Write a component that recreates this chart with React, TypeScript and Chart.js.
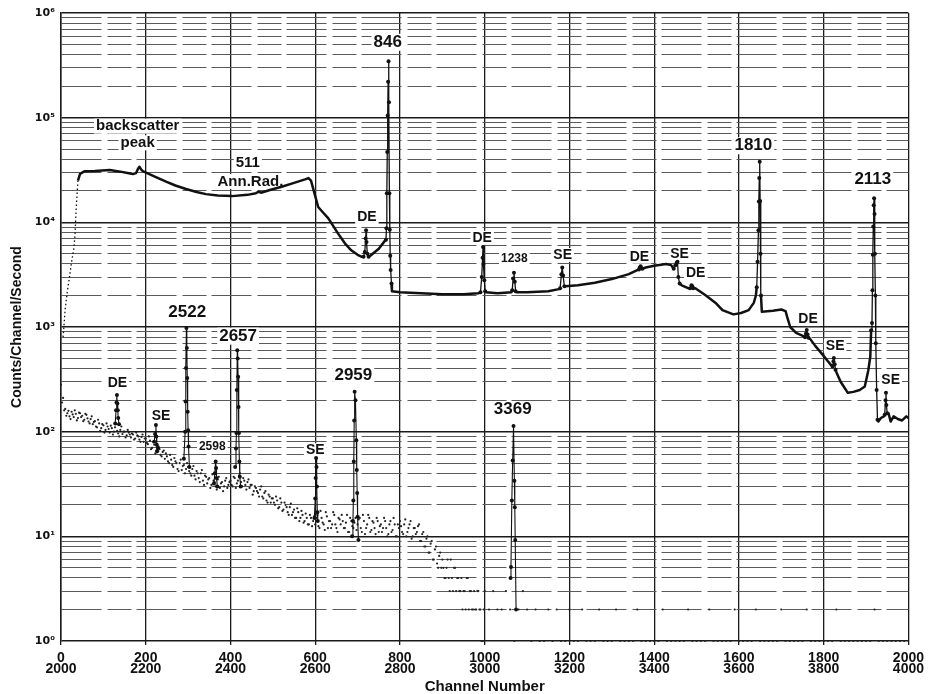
import React, { useEffect, useRef } from 'react';
import { Chart, registerables } from 'chart.js';

Chart.register(...registerables);

const FONT = '"Liberation Sans", Arial, Helvetica, sans-serif';

// ---- tick labels ----
const xTickTop = ['0', '200', '400', '600', '800', '1000', '1200', '1400', '1600', '1800', '2000'];
const xTickBottom = ['2000', '2200', '2400', '2600', '2800', '3000', '3200', '3400', '3600', '3800', '4000'];
const yTickLabels = ['10⁰', '10¹', '10²', '10³', '10⁴', '10⁵', '10⁶'];

// ---- upper spectrum (channels 0–2000), [channel, counts/s] ----
const upperRise: [number, number][] = [
  [5, 800], [10, 1500], [15, 2200], [20, 3000], [25, 4200], [30, 5500], [33, 7500], [36, 14000], [40, 25000],
];

const upperContinuum: [number, number][] = [
  [40, 25000], [45, 29000], [56, 30800], [80, 31000], [115, 31600], [140, 30500], [160, 29500], [170, 29000],
  [177, 29500], [181, 32000], [185, 34000], [189, 32000], [193, 30800], [220, 27500], [248, 24500], [270, 22500],
  [295, 20800], [320, 19500], [342, 18600], [370, 18000], [404, 17800], [440, 18300], [460, 19000], [467, 19600],
  [472, 19200], [495, 20500], [521, 21900], [550, 23800], [576, 25700], [584, 26500], [590, 25000], [596, 20400],
  [607, 14000], [620, 12200], [631, 10900], [654, 7800], [670, 6300], [685, 5400], [700, 4900], [709, 4700],
  [730, 4800], [750, 5600], [766, 6800], [781, 2200], [800, 2150], [850, 2100], [900, 2050], [950, 2060],
  [985, 2100], [1003, 2150], [1030, 2100], [1063, 2150], [1075, 2150], [1100, 2150], [1150, 2200], [1175, 2300],
  [1190, 2450], [1220, 2500], [1260, 2650], [1300, 2870], [1340, 3200], [1360, 3500], [1380, 3700], [1400, 3850],
  [1428, 4000], [1440, 3900], [1465, 2500], [1480, 2350], [1497, 2350], [1522, 2000], [1545, 1700], [1561, 1450],
  [1587, 1320], [1605, 1360], [1623, 1450], [1635, 1700], [1640, 2000], [1654, 1400], [1680, 1430], [1700, 1470],
  [1710, 1420], [1715, 1200], [1721, 1000], [1735, 880], [1752, 820], [1768, 770], [1780, 660], [1795, 560],
  [1810, 470], [1818, 430], [1830, 370], [1840, 300], [1857, 235], [1870, 240], [1885, 250], [1897, 270],
  [1905, 380], [1910, 520], [1929, 125], [1935, 135], [1942, 140], [1953, 150], [1958, 125], [1965, 140],
  [1975, 132], [1985, 128], [1995, 140], [2000, 135],
];

const peakDE720: [number, number][] = [[714, 4700], [717, 5200], [719, 7000], [720, 8400], [721, 6500], [723, 5000], [726, 4700]];
const peak846: [number, number][] = [
  [767, 6800], [768, 8800], [769, 19000], [770, 47000], [771, 105000], [772, 220000], [773, 345000],
  [774, 140000], [775, 19000], [776, 8500], [777, 4800], [778, 3500], [780, 2600],
];
const peakDE996: [number, number][] = [[990, 2150], [993, 3000], [995, 4600], [996, 5800], [997, 4000], [999, 2800], [1001, 2200]];
const peak1238: [number, number][] = [[1065, 2250], [1067, 2900], [1069, 3300], [1071, 2700], [1073, 2200]];
const peakSE1183: [number, number][] = [[1178, 2350], [1181, 3200], [1183, 3700], [1185, 3100], [1188, 2450]];
const peakDE1368: [number, number][] = [[1364, 3550], [1366, 3700], [1368, 3800], [1370, 3650], [1372, 3600]];
const peakSE1455: [number, number][] = [[1446, 3600], [1450, 3900], [1453, 4100], [1455, 4200], [1457, 3000], [1460, 2600]];
const peakDE1489: [number, number][] = [[1485, 2350], [1488, 2500], [1490, 2450], [1492, 2350]];
const peak1810: [number, number][] = [
  [1642, 2400], [1644, 4200], [1646, 8400], [1647, 15800], [1648, 26500], [1649, 38000], [1650, 16000], [1651, 5000], [1652, 2000],
];
const peakDE1760: [number, number][] = [[1756, 800], [1758, 860], [1760, 935], [1762, 850], [1764, 790]];
const peakSE1824: [number, number][] = [[1821, 420], [1823, 470], [1824, 505], [1826, 440], [1828, 390]];
const peak2113: [number, number][] = [
  [1912, 930], [1914, 1090], [1915, 2250], [1916, 4900], [1917, 9100], [1918, 14600], [1919, 17000],
  [1920, 12000], [1921, 5000], [1922, 2000], [1923, 700], [1925, 250], [1927, 130],
];
const peakSE1947: [number, number][] = [[1944, 145], [1946, 200], [1947, 235], [1948, 180], [1950, 150]];

const upperPeaks = [
  peakDE720, peak846, peakDE996, peak1238, peakSE1183, peakDE1368, peakSE1455, peakDE1489,
  peak1810, peakDE1760, peakSE1824, peak2113, peakSE1947,
];

// ---- lower spectrum (channels 2000–4000, plotted at channel − 2000) ----
const lowerDotsStart = 0;
const lowerDotsStep = 5;
const lowerDots = [
  280, 210, 165, 150, 140, 155, 138, 148, 135, 150, 142, 130, 145, 125, 132, 118, 126, 110, 120, 108,
  115, 104, 112, 98, 108, 100, 118, 96, 104, 95, 100, 92, 98, 88, 94, 86, 92, 84, 89, 80,
  86, 76, 82, 70, 75, 66, 72, 60, 64, 55, 58, 50, 54, 46, 52, 44, 50, 43, 48, 44,
  46, 40, 44, 38, 42, 36, 40, 34, 38, 32, 36, 31, 34, 30, 35, 29, 33, 30, 36, 31,
  34, 30, 36, 32, 38, 33, 36, 31, 33, 29, 31, 27, 29, 26, 28, 24, 26, 22, 25, 21,
  23, 20, 22, 19, 21, 18, 20, 17, 19, 16, 18, 15, 17, 15, 16, 14, 15, 13, 15, 14,
  13, 16, 12, 15, 13, 17, 12, 14, 13, 16, 12, 15, 13, 14, 12, 16, 11, 14, 12, 15,
  13, 15, 11, 14, 12, 16, 11, 14, 12, 15, 11, 13, 12, 14, 10, 13, 11, 15, 10, 13,
  14, 11, 13, 10, 12, 14, 10, 12, 11, 13, 9, 11, 8, 10, 7, 9, 6, 8, 5, 7,
  6, 4, 5, 4, 6, 3, 5, 4, 3, 4, 3, 2, 4, 3, 2, 3, 2, 3, 2, 1,
];
const lowerDots2Start = 2.5;
const lowerDots2 = [
  190, 160, 142, 158, 132, 146, 160, 128, 152, 138, 126, 148, 134, 120, 140, 124, 112, 130, 102, 118,
  98, 120, 106, 114, 94, 110, 102, 90, 112, 100, 88, 104, 94, 96, 84, 98, 90, 80, 94, 86,
  78, 90, 68, 80, 62, 74, 68, 58, 66, 62, 52, 60, 48, 56, 50, 42, 54, 47, 40, 50,
  42, 38, 47, 35, 40, 33, 43, 31, 37, 35, 29, 39, 33, 28, 37, 32, 27, 34, 29, 33,
  31, 37, 29, 34, 40, 30, 34, 28, 35, 31, 25, 30, 27, 24, 30, 23, 27, 21, 24, 23,
  21, 24, 18.5, 23, 17.5, 21, 19, 16, 20.5, 17, 15, 18.5, 14, 17.5, 13.5, 16.5, 13, 16, 12.5, 15.5,
  15, 12.5, 17.5, 13.5, 11.5, 15.5, 14, 12, 17, 13, 11, 14.5, 16, 12, 13.5, 11, 15, 12.5, 13.5, 11.5,
  14.5, 12, 16, 10.5, 13, 15, 11.5, 13.5, 10.5, 14, 12.5, 11, 15, 12, 10.5, 14, 11.5, 13, 10, 12,
  12.5, 10.5, 14.5, 11, 13, 9.5, 12, 10.5, 12.5, 9, 10.5, 8, 9.5, 7, 8.5, 6, 7.5, 5.5, 6.5, 5,
  5, 4, 6, 3, 4, 5, 3, 4, 3, 2, 3, 4, 2, 3, 2, 2, 3, 2, 1, 2,
];
const lowerTailStart = 1000;
const lowerTailStep = 10;
const lowerTail = [
  3, 2, 3, 2, 2, 3, 2, 1, 2, 3,
  2, 1, 2, 1, 1, 2, 1, 2, 1, 1,
  2, 1, 1, 2, 1, 1, 1, 2, 1, 1,
  1, 2, 1, 1, 1, 1, 2, 1, 1, 1,
  1, 1, 2, 1, 1, 1, 1, 1, 2, 1,
  1, 1, 1, 2, 1, 1, 1, 1, 1, 2,
  1, 1, 1, 1, 2, 1, 1, 1, 1, 1,
  2, 1, 1, 1, 1, 1, 2, 1, 1, 1,
  1, 1, 1, 2, 1, 1, 1, 1, 1, 1,
  1, 1, 2, 1, 1, 1, 1, 1, 1, 1,
];

const lowerDE2132: [number, number][] = [[128, 120], [130, 160], [131, 190], [132, 224], [133, 186], [134, 160], [135, 135], [137, 118]];
const lowerSE2224: [number, number][] = [[220, 80], [222, 95], [224, 116], [225, 90], [226, 75], [227, 65], [229, 70]];
const lower2522: [number, number][] = [
  [290, 55], [293, 100], [294, 194], [295, 405], [296, 980], [297, 630], [298, 325], [299, 155], [300, 103], [301, 72], [303, 46],
];
const lower2598: [number, number][] = [[361, 32], [363, 40], [365, 52], [366, 45], [367, 36], [369, 30]];
const lower2657: [number, number][] = [
  [411, 46], [413, 69], [414, 97], [415, 250], [416, 600], [417, 500], [418, 335], [419, 172], [420, 97], [421, 52], [422, 37], [424, 30],
];
const lowerSE2602: [number, number][] = [[598, 15], [600, 23], [601, 36], [602, 56], [603, 46], [604, 30], [605, 17], [606, 14]];
const lower2959: [number, number][] = [
  [687, 10], [689, 14], [690, 22], [691, 52], [692, 128], [693, 240], [695, 200], [697, 83], [698, 43], [699, 26], [700, 15.4], [702, 9.2],
];
const lower3369: [number, number][] = [[1061, 4], [1062, 5.1], [1064, 22], [1066, 53], [1068, 113], [1070, 34], [1071, 19], [1072, 9.2], [1074, 2]];

const lowerPeaks = [lowerDE2132, lowerSE2224, lower2522, lower2598, lower2657, lowerSE2602, lower2959, lower3369];

// ---- annotations: text, channel, counts, size class ----
const annotations: { text: string; ch: number; value: number; size: 'big' | 'mid' | 'de' | 'small' }[] = [
  { text: 'backscatter', ch: 181, value: 83000, size: 'mid' },
  { text: 'peak', ch: 181, value: 57500, size: 'mid' },
  { text: '511', ch: 441, value: 37000, size: 'mid' },
  { text: 'Ann.Rad.', ch: 447, value: 24600, size: 'mid' },
  { text: '846', ch: 771, value: 525000, size: 'big' },
  { text: 'DE', ch: 722, value: 11200, size: 'de' },
  { text: 'DE', ch: 994, value: 7100, size: 'de' },
  { text: '1238', ch: 1070, value: 4470, size: 'small' },
  { text: 'SE', ch: 1184, value: 4880, size: 'de' },
  { text: 'DE', ch: 1365, value: 4700, size: 'de' },
  { text: 'SE', ch: 1460, value: 5000, size: 'de' },
  { text: 'DE', ch: 1498, value: 3300, size: 'de' },
  { text: '1810', ch: 1634, value: 53900, size: 'big' },
  { text: '2113', ch: 1916, value: 25900, size: 'big' },
  { text: 'DE', ch: 1763, value: 1190, size: 'de' },
  { text: 'SE', ch: 1827, value: 660, size: 'de' },
  { text: 'SE', ch: 1958, value: 308, size: 'de' },
  { text: '2522', ch: 298, value: 1380, size: 'big' },
  { text: '2657', ch: 418, value: 818, size: 'big' },
  { text: 'DE', ch: 133, value: 294, size: 'de' },
  { text: 'SE', ch: 236, value: 141, size: 'de' },
  { text: '2598', ch: 357, value: 72, size: 'small' },
  { text: 'SE', ch: 600, value: 66.5, size: 'de' },
  { text: '2959', ch: 690, value: 343, size: 'big' },
  { text: '3369', ch: 1066, value: 162, size: 'big' },
];

const SIZE_PX: Record<string, number> = { big: 17, mid: 15, de: 14, small: 12 };
const INK = '#111';

const annotationPlugin = {
  id: 'spectrumLabels',
  beforeDatasetsDraw(chart: any) {
    const { ctx, scales } = chart;
    const xs = scales.x;
    const ys = scales.y;
    ctx.save();
    for (const a of annotations) {
      const px = xs.getPixelForValue(a.ch);
      const py = ys.getPixelForValue(a.value);
      const size = SIZE_PX[a.size];
      ctx.font = `bold ${size}px ${FONT}`;
      const w = ctx.measureText(a.text).width;
      ctx.fillStyle = '#fff';
      ctx.fillRect(px - w / 2 - 2, py - size * 0.5, w + 4, size * 1.0);
      ctx.fillStyle = INK;
      ctx.textAlign = 'center';
      ctx.textBaseline = 'middle';
      ctx.fillText(a.text, px, py);
    }
    ctx.restore();
  },
};

function isDecade(v: number) {
  const l = Math.log10(v);
  return Math.abs(l - Math.round(l)) < 1e-9;
}

export default function App() {
  const canvasRef = useRef<HTMLCanvasElement | null>(null);

  useEffect(() => {
    document.body.style.margin = '0';
    const canvas = canvasRef.current;
    if (!canvas) return;

    const upperMerged = [
      ...upperContinuum.map((p) => ({ x: p[0], y: p[1], peak: false })),
      ...upperPeaks.flat().map((p) => ({ x: p[0], y: p[1], peak: true })),
    ].sort((a, b) => a.x - b.x);

    const dotsA = lowerDots.map((v, i) => ({ x: lowerDotsStart + i * lowerDotsStep, y: v }));
    const dotsA2 = lowerDots2.map((v, i) => ({ x: lowerDots2Start + i * lowerDotsStep, y: v }));
    const dotsB = lowerTail.map((v, i) => ({ x: lowerTailStart + i * lowerTailStep, y: v }));

    const dotStyle = {
      showLine: false,
      backgroundColor: '#222',
      pointRadius: 1.1,
      pointBorderWidth: 0,
      clip: false,
    };

    const datasets: any[] = [
      {
        label: 'upper spectrum',
        data: upperMerged.map((p) => ({ x: p.x, y: p.y })),
        showLine: true,
        borderColor: INK,
        backgroundColor: INK,
        borderWidth: 2.5,
        borderJoinStyle: 'round',
        pointRadius: (c: any) => (upperMerged[c.dataIndex] && upperMerged[c.dataIndex].peak ? 2 : 0),
        pointBorderWidth: 0,
        segment: {
          borderWidth: (c: any) =>
            upperMerged[c.p0DataIndex].peak && upperMerged[c.p1DataIndex].peak ? 1.3 : 2.5,
        },
      },
      {
        label: 'upper rise',
        data: upperRise.map((p) => ({ x: p[0], y: p[1] })),
        showLine: true,
        borderColor: INK,
        borderWidth: 1.3,
        borderDash: [1.5, 2.5],
        pointRadius: 0,
      },
      ...lowerPeaks.map((pk, i) => ({
        label: 'lower peak ' + i,
        data: pk.map((p) => ({ x: p[0], y: p[1] })),
        showLine: true,
        borderColor: INK,
        backgroundColor: INK,
        borderWidth: 1.1,
        pointRadius: 2,
        pointBorderWidth: 0,
      })),
      { label: 'lower dots', data: dotsA, ...dotStyle },
      { label: 'lower dots b', data: dotsA2, ...dotStyle },
      { label: 'lower tail', data: dotsB, ...dotStyle },
    ];

    const chart = new Chart(canvas, {
      type: 'scatter',
      data: { datasets },
      options: {
        animation: false,
        responsive: false,
        devicePixelRatio: 1,
        layout: { padding: { top: 13, right: 18, bottom: 0, left: 0 } },
        plugins: { legend: { display: false }, tooltip: { enabled: false } },
        scales: {
          x: {
            type: 'linear',
            min: 0,
            max: 2000,
            afterFit: (s: any) => {
              s.height = 53;
            },
            ticks: {
              stepSize: 200,
              autoSkip: false,
              maxRotation: 0,
              padding: 8,
              color: INK,
              font: { family: FONT, size: 14, weight: 'bold', lineHeight: 0.77 },
              callback: (v: any) => {
                const i = Math.round(Number(v) / 200);
                return [xTickTop[i], xTickBottom[i]];
              },
            },
            grid: { color: '#1a1a1a', lineWidth: 1.3, tickLength: 4, drawTicks: true },
            border: { display: false },
            title: {
              display: true,
              text: 'Channel Number',
              color: INK,
              font: { family: FONT, size: 15, weight: 'bold', lineHeight: 0.9 },
              padding: 0,
            },
          },
          y: {
            type: 'logarithmic',
            min: 1,
            max: 1e6,
            afterFit: (s: any) => {
              s.width = 61;
            },
            afterBuildTicks: (s: any) => {
              const t: any[] = [];
              for (let e = 0; e < 6; e++) {
                for (let m = 1; m <= 9; m++) t.push({ value: m * Math.pow(10, e) });
              }
              t.push({ value: 1e6 });
              s.ticks = t;
            },
            ticks: {
              autoSkip: false,
              padding: 6,
              color: INK,
              font: { family: '"DejaVu Sans", sans-serif', size: 11, weight: 'bold' },
              callback: (v: any) => {
                const n = Number(v);
                if (!isDecade(n)) return '';
                return yTickLabels[Math.round(Math.log10(n))];
              },
            },
            grid: {
              drawTicks: false,
              color: (c: any) => (c.tick && isDecade(c.tick.value) ? '#1a1a1a' : '#5a5a5a'),
              lineWidth: (c: any) => (c.tick && isDecade(c.tick.value) ? 1.6 : 1),
            },
            border: {
              display: true,
              color: '#1a1a1a',
              width: 1.5,
              dash: (c: any) => (c.tick && !isDecade(c.tick.value) ? [40, 6, 24, 5] : []),
            },
            title: {
              display: true,
              text: 'Counts/Channel/Second',
              color: INK,
              font: { family: FONT, size: 14, weight: 'bold' },
              padding: { top: 9, bottom: 0 },
            },
          },
        },
      },
      plugins: [annotationPlugin],
    } as any);

    return () => {
      chart.destroy();
    };
  }, []);

  return (
    <div style={{ position: 'absolute', left: 0, top: 0, width: 932, height: 694, background: '#fff' }}>
      <canvas ref={canvasRef} width={932} height={694} style={{ display: 'block' }} />
    </div>
  );
}
